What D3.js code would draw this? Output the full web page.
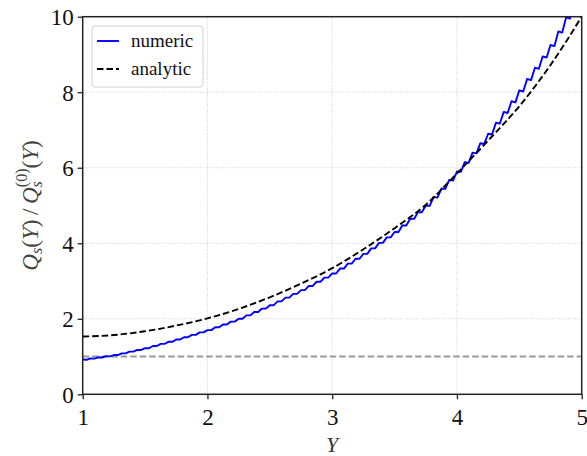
<!DOCTYPE html>
<html>
<head>
<meta charset="utf-8">
<script src="https://cdn.jsdelivr.net/npm/d3@7"></script>
<style>
  body { margin: 0; background: #fff; }
  svg text { font-family: "Liberation Serif", "DejaVu Serif", serif; }
</style>
</head>
<body>
<div id="chart"></div>
<script>
// ---- data ----
const xTicks = [1, 2, 3, 4, 5]
const yTicks = [0, 2, 4, 6, 8, 10]

// analytic curve, sampled every 0.25 in Y
const anaY = [1, 1.25, 1.5, 1.75, 2, 2.25, 2.5, 2.75, 3, 3.25, 3.5, 3.75, 4, 4.25, 4.5, 4.75, 5]
const anaQ = [1.53, 1.57, 1.67, 1.82, 2.01, 2.26, 2.57, 2.93, 3.34, 3.84, 4.4, 5.02, 5.85, 6.72, 7.63, 8.72, 10.0]

// numeric curve (staircase-like), sampled every 1/32 in Y from 1 to 5
const numQ = [
  0.92, 0.915, 0.95, 0.945, 0.98, 0.975, 1.01, 1.005,
  1.04, 1.04, 1.085, 1.085, 1.13, 1.13, 1.175, 1.175,
  1.22, 1.22, 1.28, 1.28, 1.335, 1.335, 1.39, 1.39,
  1.45, 1.45, 1.51, 1.51, 1.575, 1.575, 1.64, 1.64,
  1.70, 1.70, 1.775, 1.775, 1.85, 1.85, 1.925, 1.925,
  2.00, 2.00, 2.09, 2.09, 2.18, 2.18, 2.27, 2.27,
  2.36, 2.36, 2.46, 2.46, 2.56, 2.56, 2.66, 2.66,
  2.76, 2.76, 2.87, 2.87, 2.98, 2.98, 3.09, 3.09,
  3.20, 3.20, 3.33, 3.33, 3.46, 3.46, 3.59, 3.59,
  3.72, 3.72, 3.865, 3.865, 4.01, 4.01, 4.155, 4.155,
  4.30, 4.30, 4.475, 4.47, 4.65, 4.645, 4.825, 4.82,
  5.00, 4.99, 5.225, 5.21, 5.45, 5.44, 5.675, 5.66,
  5.90, 5.89, 6.15, 6.13, 6.40, 6.38, 6.65, 6.63,
  6.90, 6.88, 7.19, 7.17, 7.48, 7.45, 7.76, 7.73,
  8.05, 8.02, 8.35, 8.32, 8.65, 8.62, 8.95, 8.92,
  9.25, 9.22, 9.61, 9.58, 9.98, 9.95, 10.34, 10.31,
  10.70
]
const numY = numQ.map((d, i) => 1 + i / 32)

const refLevel = 1

// ---- page specs ----
const width = 587
const height = 456
const margin = { top: 16.7, right: 5.3, bottom: 61.7, left: 82.7 }
const iw = width - margin.left - margin.right
const ih = height - margin.top - margin.bottom

const svg = d3.select('#chart')
  .append('svg')
  .attr('width', width)
  .attr('height', height)

const x = d3.scaleLinear().domain([1, 5]).range([0, iw])
const y = d3.scaleLinear().domain([0, 10]).range([ih, 0])

const g = svg.append('g')
  .attr('transform', `translate(${margin.left},${margin.top})`)

g.append('clipPath').attr('id', 'plot-clip')
  .append('rect').attr('width', iw).attr('height', ih)

// grid
const grid = g.append('g')
grid.selectAll('line.gx')
  .data(xTicks.slice(1, -1))
  .enter().append('line')
  .attr('x1', d => x(d)).attr('x2', d => x(d))
  .attr('y1', 0).attr('y2', ih)
  .attr('stroke', '#c8c8c8').attr('stroke-width', 0.8)
  .attr('stroke-dasharray', '1,1.3')
grid.selectAll('line.gy')
  .data(yTicks.slice(1, -1))
  .enter().append('line')
  .attr('x1', 0).attr('x2', iw)
  .attr('y1', d => y(d)).attr('y2', d => y(d))
  .attr('stroke', '#c8c8c8').attr('stroke-width', 0.8)
  .attr('stroke-dasharray', '1,1.3')

const curves = g.append('g').attr('clip-path', 'url(#plot-clip)')

// reference line at 1
curves.append('line')
  .attr('x1', 0).attr('x2', iw)
  .attr('y1', y(refLevel)).attr('y2', y(refLevel))
  .attr('stroke', '#999').attr('stroke-width', 1.9)
  .attr('stroke-dasharray', '6.5,3')

const numLine = d3.line()
  .x((d, i) => x(numY[i]))
  .y(d => y(d))

curves.append('path')
  .datum(numQ)
  .attr('d', numLine)
  .attr('fill', 'none')
  .attr('stroke', '#0000ff')
  .attr('stroke-width', 1.9)
  .attr('stroke-linejoin', 'round')

const anaLine = d3.line()
  .x((d, i) => x(anaY[i]))
  .y(d => y(d))
  .curve(d3.curveMonotoneX)

curves.append('path')
  .datum(anaQ)
  .attr('d', anaLine)
  .attr('fill', 'none')
  .attr('stroke', '#000')
  .attr('stroke-width', 1.9)
  .attr('stroke-dasharray', '6.5,3')

// axes
const xAxis = g.append('g')
  .attr('transform', `translate(0,${ih})`)
  .call(d3.axisBottom(x).tickValues(xTicks).tickFormat(d3.format('d')).tickSize(5).tickPadding(5))
const yAxis = g.append('g')
  .call(d3.axisLeft(y).tickValues(yTicks).tickFormat(d3.format('d')).tickSize(5).tickPadding(4))

;[xAxis, yAxis].forEach(a => {
  a.select('.domain').remove()
  a.selectAll('.tick line').attr('stroke', '#222').attr('stroke-width', 1.3)
  a.selectAll('.tick text')
    .attr('fill', '#111')
    .style('font-size', '23px')
})
xAxis.selectAll('.tick text').attr('dy', '0.92em')
yAxis.selectAll('.tick text').attr('dy', '0.34em')

// frame
g.append('rect')
  .attr('width', iw).attr('height', ih)
  .attr('fill', 'none')
  .attr('stroke', '#222')
  .attr('stroke-width', 1.5)

// axis labels
svg.append('text')
  .attr('x', margin.left + iw / 2)
  .attr('y', 452)
  .attr('text-anchor', 'middle')
  .attr('fill', '#333')
  .style('font-size', '22px')
  .style('font-style', 'italic')
  .text('Y')

const yl = svg.append('text')
  .attr('transform', `translate(38,${margin.top + ih / 2}) rotate(-90)`)
  .attr('text-anchor', 'middle')
  .attr('fill', '#444')
  .style('font-size', '23px')
yl.append('tspan').style('font-style', 'italic').text('Q')
yl.append('tspan').style('font-style', 'italic').style('font-size', '16px').attr('dy', 4).text('s')
yl.append('tspan').attr('dy', -4).text('(')
yl.append('tspan').style('font-style', 'italic').text('Y')
yl.append('tspan').text(')\u2009/\u2009')
yl.append('tspan').style('font-style', 'italic').text('Q')
yl.append('tspan').style('font-style', 'italic').style('font-size', '16px').attr('dy', 4).text('s')
yl.append('tspan').style('font-size', '16px').attr('dx', -6).attr('dy', -15).text('(0)')
yl.append('tspan').attr('dy', 11).text('(')
yl.append('tspan').style('font-style', 'italic').text('Y')
yl.append('tspan').text(')')

// legend
const legend = svg.append('g').attr('transform', 'translate(92,26)')
legend.append('rect')
  .attr('width', 111).attr('height', 61)
  .attr('rx', 3)
  .attr('fill', '#fff')
  .attr('stroke', '#d0d0d0')
  .attr('stroke-width', 1)

const legendItems = [
  { label: 'numeric', color: '#0000ff', dash: null },
  { label: 'analytic', color: '#000', dash: '6.5,3' }
]
legendItems.forEach((d, i) => {
  const yy = 15 + i * 28
  legend.append('line')
    .attr('x1', 5).attr('x2', 27)
    .attr('y1', yy).attr('y2', yy)
    .attr('stroke', d.color)
    .attr('stroke-width', 1.9)
    .attr('stroke-dasharray', d.dash)
  legend.append('text')
    .attr('x', 39).attr('y', yy + 6)
    .attr('fill', '#111')
    .style('font-size', '19px')
    .text(d.label)
})
</script>
</body>
</html>
